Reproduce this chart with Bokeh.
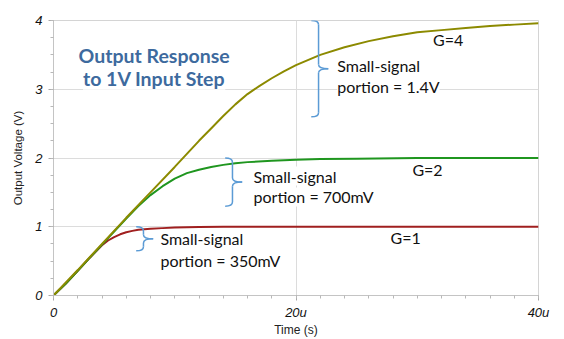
from bokeh.plotting import figure
from bokeh.models import Label, FixedTicker, Range1d
from bokeh.embed import file_html
from bokeh.resources import INLINE

# ---- data (time in microseconds, output in volts) ----
t_g1 = [0, 1, 2, 3, 4, 4.5, 5, 5.5, 6, 6.5, 7, 8, 9, 10, 12, 14, 20, 30, 40]
v_g1 = [0, 0.17, 0.36, 0.55, 0.73, 0.80, 0.85, 0.89, 0.92, 0.94, 0.955, 0.97, 0.98, 0.99, 0.995, 1.0, 1.0, 1.0, 1.0]

t_g2 = [0, 1, 2, 3, 4, 5, 6, 7, 7.5, 8, 9, 10, 11, 12, 13, 14, 15, 16, 18, 20, 22, 25, 30, 40]
v_g2 = [0, 0.17, 0.36, 0.55, 0.74, 0.93, 1.12, 1.30, 1.38, 1.46, 1.59, 1.70, 1.78, 1.83, 1.87, 1.90, 1.925, 1.94, 1.96, 1.975, 1.985, 1.99, 2.0, 2.0]

t_g4 = [0, 2, 4, 6, 8, 10, 12, 13, 14, 15, 16, 17, 18, 19, 20, 22, 24, 26, 28, 30, 32, 34, 36, 38, 40]
v_g4 = [0, 0.37, 0.75, 1.13, 1.50, 1.87, 2.25, 2.43, 2.61, 2.78, 2.93, 3.05, 3.16, 3.26, 3.35, 3.50, 3.61, 3.70, 3.77, 3.83, 3.86, 3.89, 3.92, 3.94, 3.96]

gains = [1, 2, 4]
gain_labels = ["G=1", "G=2", "G=4"]
small_signal = [0.35, 0.7, 1.4]
small_signal_text = ["portion = 350mV", "portion = 700mV", "portion = 1.4V"]
brace_t = [7.42, 14.76, 21.86]

x_ticks = [0, 20, 40]
x_tick_labels = ["0", "20u", "40u"]
y_ticks = [0, 1, 2, 3, 4]

# ---- figure ----
p = figure(width=564, height=339, output_backend="svg", toolbar_location=None,
           x_range=Range1d(0, 40), y_range=Range1d(0, 4),
           min_border_left=53, min_border_right=26, min_border_top=20, min_border_bottom=43)
p.background_fill_color = "white"
p.border_fill_color = "white"
p.outline_line_color = "#d4d4d4"

p.xaxis.ticker = FixedTicker(ticks=x_ticks, minor_ticks=list(range(0, 41, 2)))
p.xaxis.major_label_overrides = {t: l for t, l in zip(x_ticks, x_tick_labels)}
p.yaxis.ticker = FixedTicker(ticks=y_ticks, minor_ticks=[i * 0.25 for i in range(17)])

for ax in (p.xaxis, p.yaxis):
    ax.axis_line_color = "#c4c4c4"
    ax.major_tick_line_color = "#a8a8a8"
    ax.minor_tick_line_color = "#b8b8b8"
    ax.major_tick_in = 0
    ax.minor_tick_in = 0
    ax.major_tick_out = 5
    ax.minor_tick_out = 3
    ax.major_label_text_font = "Liberation Sans"
    ax.major_label_text_font_style = "italic"
    ax.major_label_text_font_size = "13px"
    ax.major_label_text_color = "#111111"
    ax.axis_label_text_font = "Liberation Sans"
    ax.axis_label_text_font_style = "normal"
    ax.axis_label_text_color = "#222222"

p.xaxis.axis_label_text_font_size = "12px"
p.yaxis.axis_label_text_font_size = "11.5px"
p.xaxis.major_label_standoff = 4
p.yaxis.major_label_standoff = 6
p.xaxis.axis_label = "Time (s)"
p.yaxis.axis_label = "Output Voltage (V)"
p.xaxis.axis_label_standoff = 0
p.yaxis.axis_label_standoff = 8

p.xgrid.ticker = FixedTicker(ticks=[20])
p.ygrid.ticker = FixedTicker(ticks=[1, 2, 3])
p.xgrid.grid_line_color = "#dcdcdc"
p.ygrid.grid_line_color = "#dcdcdc"

# ---- curves ----
p.line(t_g1, v_g1, line_color="#a01f1f", line_width=2)
p.line(t_g2, v_g2, line_color="#1f961f", line_width=2)
p.line(t_g4, v_g4, line_color="#8c8a00", line_width=2)

# ---- braces marking small-signal portions ----
brace_color = "#5b9bd5"
hook_w = 0.6   # time units
tip_w = 0.8
for g, ss, bt in zip(gains, small_signal, brace_t):
    top = float(g)
    bot = g - ss
    mid = (top + bot) / 2
    d = 0.06
    p.quadratic(x0=[bt - hook_w], y0=[top], x1=[bt], y1=[top - d], cx=[bt], cy=[top],
                line_color=brace_color, line_width=1.5)
    p.segment(x0=[bt], y0=[top - d], x1=[bt], y1=[mid + d], line_color=brace_color, line_width=1.5)
    p.quadratic(x0=[bt], y0=[mid + d], x1=[bt + tip_w], y1=[mid], cx=[bt], cy=[mid],
                line_color=brace_color, line_width=1.5)
    p.quadratic(x0=[bt + tip_w], y0=[mid], x1=[bt], y1=[mid - d], cx=[bt], cy=[mid],
                line_color=brace_color, line_width=1.5)
    p.segment(x0=[bt], y0=[mid - d], x1=[bt], y1=[bot + d], line_color=brace_color, line_width=1.5)
    p.quadratic(x0=[bt], y0=[bot + d], x1=[bt - hook_w], y1=[bot], cx=[bt], cy=[bot],
                line_color=brace_color, line_width=1.5)

# ---- annotation texts ----
def add_label(x, y, text, size="16px", bold=False, color="#111111", align="left", bg=True):
    lab = Label(x=x, y=y, text=text, text_font="Lato", text_font_size=size,
                text_font_style="bold" if bold else "normal", text_color=color,
                text_align=align, text_baseline="alphabetic",
                background_fill_color="white" if bg else None, padding=0)
    p.add_layout(lab)

title_color = "#3d6a9e"
add_label(8.3, 3.49, "Output Response", size="19.5px", bold=True, color=title_color, align="center")
add_label(8.3, 3.16, "to 1V Input Step", size="19.5px", bold=True, color=title_color, align="center")

text_pos = [(8.82, 0.825, 0.506), (16.5, 1.738, 1.433), (23.4, 3.346, 3.04)]
for (tx, y1, y2), txt in zip(text_pos, small_signal_text):
    add_label(tx, y1, "Small-signal")
    add_label(tx, y2, txt)

g_pos = [(27.8, 0.845), (29.6, 1.835), (31.3, 3.725)]
for (gx, gy), gl in zip(g_pos, gain_labels):
    add_label(gx, gy, gl, bg=False)

open("out.html", "w").write(file_html(p, INLINE))
